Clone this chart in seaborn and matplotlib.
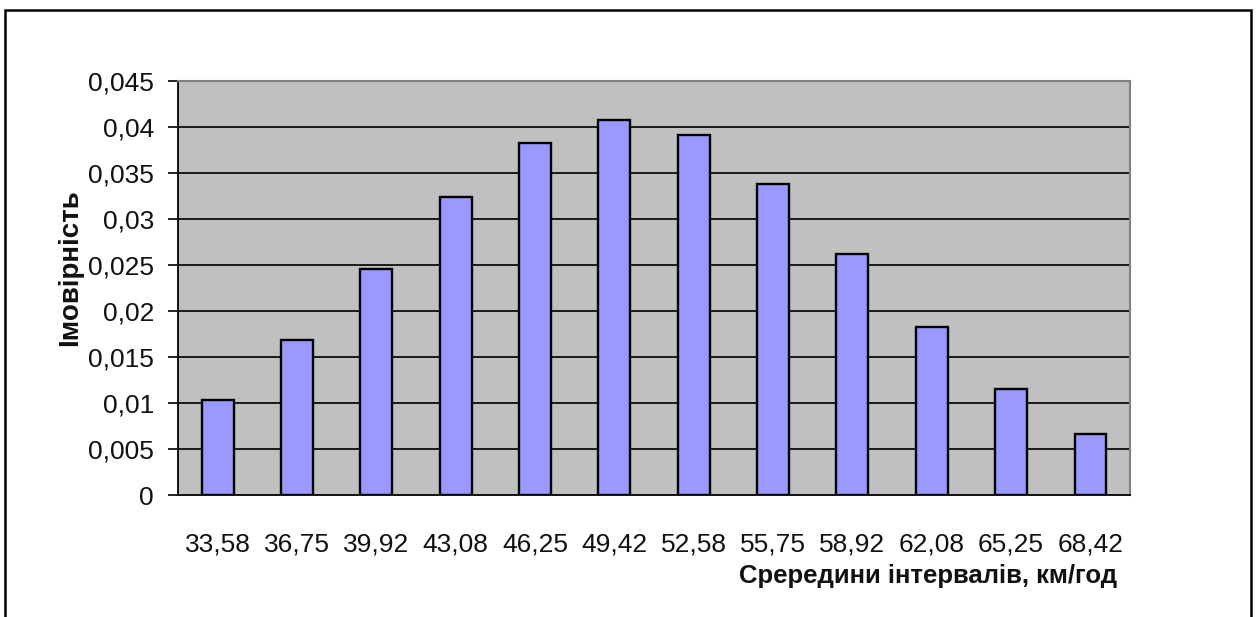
import matplotlib
matplotlib.use("Agg")
import matplotlib.pyplot as plt
import matplotlib.patches as mpatches
import numpy as np
import pandas as pd
import seaborn as sns

# Interval midpoints (km/h) and their probabilities
midpoints = ["33,58", "36,75", "39,92", "43,08", "46,25", "49,42",
             "52,58", "55,75", "58,92", "62,08", "65,25", "68,42"]
probabilities = [0.0103, 0.0168, 0.0246, 0.0324, 0.0383, 0.0408,
                 0.0391, 0.0338, 0.0262, 0.0183, 0.0115, 0.0066]
y_ticks = [0, 0.005, 0.01, 0.015, 0.02, 0.025, 0.03, 0.035, 0.04, 0.045]
y_tick_labels = ["0", "0,005", "0,01", "0,015", "0,02", "0,025",
                 "0,03", "0,035", "0,04", "0,045"]

sns.set_style("white")
plt.rcParams["font.family"] = ["Liberation Sans", "DejaVu Sans"]

df = pd.DataFrame({"x": midpoints, "p": probabilities})

fig = plt.figure(figsize=(12.57, 6.17), dpi=100)
ax = fig.add_axes([0.1416, 0.1977, 0.899 - 0.1416, 0.8687 - 0.1977])
ax.set_facecolor("#C0C0C0")

# horizontal gridlines under the bars
for y in y_ticks[1:-1]:
    ax.axhline(y, color="#1a1a1a", linewidth=1.4, zorder=0)

sns.barplot(data=df, x="x", y="p", color="#9999FF", edgecolor="black",
            linewidth=1.7, width=0.4, saturation=1, ax=ax, zorder=2)

n = len(midpoints)
ax.set_xlim(-0.5, n - 0.5)
ax.set_ylim(0, 0.045)
ax.set_yticks(y_ticks)
ax.set_yticklabels(y_tick_labels, fontsize=19, color="#111111")

# category labels centred, tick marks on the boundaries between categories
ax.set_xticks(np.arange(n))
ax.set_xticklabels(midpoints, fontsize=19, color="#111111")
ax.set_xticks(np.arange(n + 1) - 0.5, minor=True)
ax.tick_params(axis="x", which="major", length=0, pad=27)
ax.tick_params(axis="x", which="minor", length=7, width=1.2, color="black",
               direction="out")
ax.tick_params(axis="y", which="major", length=7.2, width=1.2, color="black",
               direction="out", pad=10, left=True)

for side in ("top", "right"):
    ax.spines[side].set_color("#808080")
    ax.spines[side].set_linewidth(1.5)
for side in ("left", "bottom"):
    ax.spines[side].set_color("black")
    ax.spines[side].set_linewidth(1.3)

ax.set_xlabel("")
ax.set_ylabel("")

fig.text(0.0560, 0.566, "Імовірність", rotation=90, ha="center", va="center",
         fontsize=20, fontweight="bold", color="#111111")
fig.text(0.889, 0.067, "Срередини інтервалів, км/год", ha="right",
         va="center", fontsize=18.5, fontweight="bold", color="#111111")

# outer frame of the chart area
frame = mpatches.Rectangle((5 / 1257, -0.05), (1251 - 5) / 1257,
                           1.05 - 10 / 617, transform=fig.transFigure,
                           fill=False, edgecolor="black", linewidth=1.8,
                           clip_on=False)
fig.patches.append(frame)

fig.savefig("out.png", dpi=100)
